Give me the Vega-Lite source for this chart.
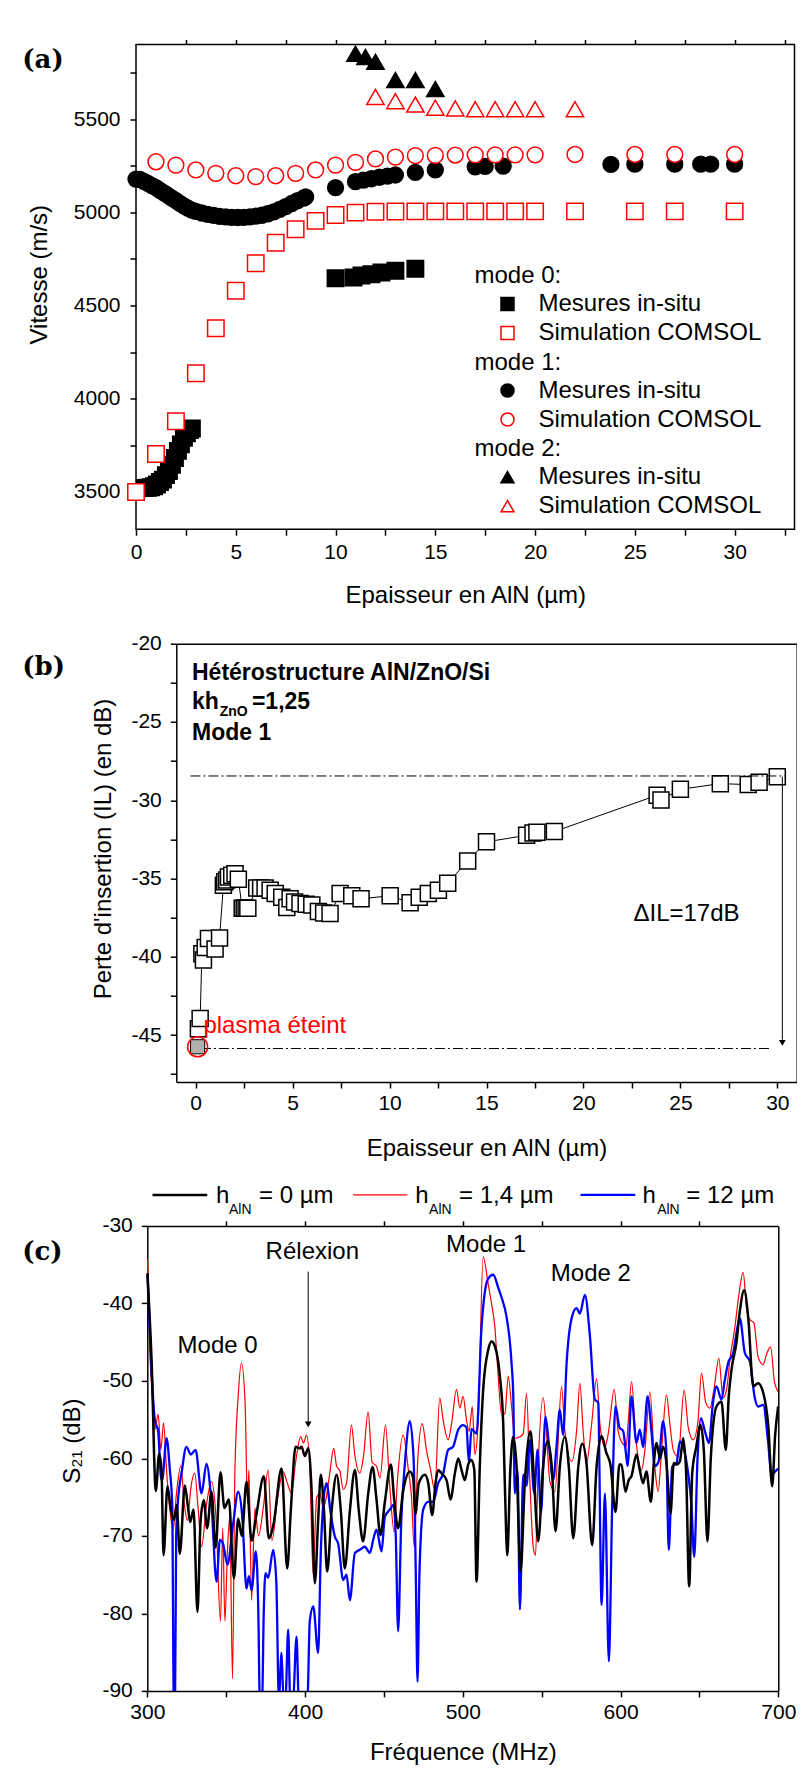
{
"$schema": "https://vega.github.io/schema/vega-lite/v6.json",
"padding": {"left": 21, "top": 37.5, "right": 0, "bottom": 0},
"background": "white",
"config": {
  "font": "Liberation Sans",
  "view": {"stroke": "black", "strokeWidth": 1.5},
  "axis": {"domain": false, "domainColor": "black", "domainWidth": 1.5, "grid": false, "tickColor": "black", "tickWidth": 1.5, "tickSize": 6, "labelFont": "Liberation Sans", "labelFontSize": 21, "labelColor": "black", "labelFlush": false, "labelOverlap": false, "titleFont": "Liberation Sans", "titleFontSize": 24, "titleFontWeight": "normal", "titleColor": "black"},
  "legend": {"labelFont": "Liberation Sans", "labelFontSize": 24, "labelColor": "black", "labelLimit": 400, "titleFont": "Liberation Sans", "titleFontSize": 24, "titleFontWeight": "normal", "titleColor": "black", "titleLimit": 400, "padding": 0, "rowPadding": 5, "titlePadding": 4, "symbolSize": 170, "symbolStrokeWidth": 1.5, "symbolOffset": 21, "labelOffset": 19},
  "text": {"font": "Liberation Sans", "fontSize": 24, "baseline": "alphabetic", "align": "left", "color": "black"}
},
"datasets": {
  "a": [
    {"m":0,"t":"mes","x":0.45,"v":3521},{"m":0,"t":"mes","x":0.6,"v":3522},{"m":0,"t":"mes","x":0.75,"v":3525},{"m":0,"t":"mes","x":0.9,"v":3530},{"m":0,"t":"mes","x":1.05,"v":3540},{"m":0,"t":"mes","x":1.2,"v":3553},{"m":0,"t":"mes","x":1.35,"v":3566},{"m":0,"t":"mes","x":1.5,"v":3590},{"m":0,"t":"mes","x":1.65,"v":3612},{"m":0,"t":"mes","x":1.8,"v":3645},{"m":0,"t":"mes","x":1.95,"v":3682},{"m":0,"t":"mes","x":2.1,"v":3720},{"m":0,"t":"mes","x":2.25,"v":3755},{"m":0,"t":"mes","x":2.4,"v":3790},{"m":0,"t":"mes","x":2.55,"v":3815},{"m":0,"t":"mes","x":2.7,"v":3832},{"m":0,"t":"mes","x":2.8,"v":3840},
    {"m":0,"t":"mes","x":10,"v":4646},{"m":0,"t":"mes","x":10.9,"v":4650},{"m":0,"t":"mes","x":11.3,"v":4661},{"m":0,"t":"mes","x":11.8,"v":4668},{"m":0,"t":"mes","x":12.3,"v":4677},{"m":0,"t":"mes","x":13,"v":4686},{"m":0,"t":"mes","x":14,"v":4697},
    {"m":0,"t":"sim","x":0,"v":3500},{"m":0,"t":"sim","x":1,"v":3703},{"m":0,"t":"sim","x":2,"v":3879},{"m":0,"t":"sim","x":3,"v":4137},{"m":0,"t":"sim","x":4,"v":4378},{"m":0,"t":"sim","x":5,"v":4579},{"m":0,"t":"sim","x":6,"v":4727},{"m":0,"t":"sim","x":7,"v":4837},{"m":0,"t":"sim","x":8,"v":4909},{"m":0,"t":"sim","x":9,"v":4954},{"m":0,"t":"sim","x":10,"v":4985},{"m":0,"t":"sim","x":11,"v":4998},{"m":0,"t":"sim","x":12,"v":5003},{"m":0,"t":"sim","x":13,"v":5004},{"m":0,"t":"sim","x":14,"v":5005},{"m":0,"t":"sim","x":15,"v":5005},{"m":0,"t":"sim","x":16,"v":5005},{"m":0,"t":"sim","x":17,"v":5005},{"m":0,"t":"sim","x":18,"v":5005},{"m":0,"t":"sim","x":19,"v":5005},{"m":0,"t":"sim","x":20,"v":5005},{"m":0,"t":"sim","x":22,"v":5005},{"m":0,"t":"sim","x":25,"v":5005},{"m":0,"t":"sim","x":27,"v":5005},{"m":0,"t":"sim","x":30,"v":5005},
    {"m":1,"t":"mes","x":0,"v":5178},{"m":1,"t":"mes","x":0.2,"v":5176},{"m":1,"t":"mes","x":0.4,"v":5166},{"m":1,"t":"mes","x":0.6,"v":5155},{"m":1,"t":"mes","x":0.8,"v":5143},{"m":1,"t":"mes","x":1.0,"v":5132},{"m":1,"t":"mes","x":1.2,"v":5118},{"m":1,"t":"mes","x":1.4,"v":5104},{"m":1,"t":"mes","x":1.6,"v":5090},{"m":1,"t":"mes","x":1.8,"v":5076},{"m":1,"t":"mes","x":2.0,"v":5062},{"m":1,"t":"mes","x":2.2,"v":5048},{"m":1,"t":"mes","x":2.4,"v":5034},{"m":1,"t":"mes","x":2.6,"v":5022},{"m":1,"t":"mes","x":2.8,"v":5012},{"m":1,"t":"mes","x":3.0,"v":5005},{"m":1,"t":"mes","x":3.3,"v":4996},{"m":1,"t":"mes","x":3.6,"v":4989},{"m":1,"t":"mes","x":3.9,"v":4983},{"m":1,"t":"mes","x":4.2,"v":4978},{"m":1,"t":"mes","x":4.5,"v":4975},{"m":1,"t":"mes","x":4.8,"v":4973},{"m":1,"t":"mes","x":5.1,"v":4972},{"m":1,"t":"mes","x":5.4,"v":4973},{"m":1,"t":"mes","x":5.7,"v":4975},{"m":1,"t":"mes","x":6.0,"v":4979},{"m":1,"t":"mes","x":6.3,"v":4984},{"m":1,"t":"mes","x":6.6,"v":4992},{"m":1,"t":"mes","x":6.9,"v":5002},{"m":1,"t":"mes","x":7.2,"v":5016},{"m":1,"t":"mes","x":7.5,"v":5030},{"m":1,"t":"mes","x":7.8,"v":5047},{"m":1,"t":"mes","x":8.1,"v":5062},{"m":1,"t":"mes","x":8.4,"v":5076},{"m":1,"t":"mes","x":8.5,"v":5082},
    {"m":1,"t":"mes","x":10,"v":5132},{"m":1,"t":"mes","x":11,"v":5164},{"m":1,"t":"mes","x":11.4,"v":5172},{"m":1,"t":"mes","x":11.8,"v":5180},{"m":1,"t":"mes","x":12.2,"v":5188},{"m":1,"t":"mes","x":12.6,"v":5194},{"m":1,"t":"mes","x":13,"v":5200},{"m":1,"t":"mes","x":14,"v":5214},{"m":1,"t":"mes","x":15,"v":5227},{"m":1,"t":"mes","x":17,"v":5244},{"m":1,"t":"mes","x":17.5,"v":5246},{"m":1,"t":"mes","x":18.4,"v":5248},{"m":1,"t":"mes","x":23.8,"v":5257},{"m":1,"t":"mes","x":25,"v":5258},{"m":1,"t":"mes","x":27,"v":5258},{"m":1,"t":"mes","x":28.3,"v":5258},{"m":1,"t":"mes","x":28.8,"v":5258},{"m":1,"t":"mes","x":30,"v":5258},
    {"m":1,"t":"sim","x":1,"v":5271},{"m":1,"t":"sim","x":2,"v":5253},{"m":1,"t":"sim","x":3,"v":5227},{"m":1,"t":"sim","x":4,"v":5209},{"m":1,"t":"sim","x":5,"v":5196},{"m":1,"t":"sim","x":6,"v":5191},{"m":1,"t":"sim","x":7,"v":5196},{"m":1,"t":"sim","x":8,"v":5209},{"m":1,"t":"sim","x":9,"v":5227},{"m":1,"t":"sim","x":10,"v":5253},{"m":1,"t":"sim","x":11,"v":5268},{"m":1,"t":"sim","x":12,"v":5286},{"m":1,"t":"sim","x":13,"v":5296},{"m":1,"t":"sim","x":14,"v":5304},{"m":1,"t":"sim","x":15,"v":5305},{"m":1,"t":"sim","x":16,"v":5307},{"m":1,"t":"sim","x":17,"v":5308},{"m":1,"t":"sim","x":18,"v":5308},{"m":1,"t":"sim","x":19,"v":5308},{"m":1,"t":"sim","x":20,"v":5308},{"m":1,"t":"sim","x":22,"v":5310},{"m":1,"t":"sim","x":25,"v":5310},{"m":1,"t":"sim","x":27,"v":5310},{"m":1,"t":"sim","x":30,"v":5310},
    {"m":2,"t":"mes","x":11,"v":5851},{"m":2,"t":"mes","x":11.5,"v":5833},{"m":2,"t":"mes","x":12,"v":5807},{"m":2,"t":"mes","x":13,"v":5709},{"m":2,"t":"mes","x":14,"v":5709},{"m":2,"t":"mes","x":15,"v":5661},
    {"m":2,"t":"sim","x":12,"v":5619},{"m":2,"t":"sim","x":13,"v":5596},{"m":2,"t":"sim","x":14,"v":5578},{"m":2,"t":"sim","x":15,"v":5561},{"m":2,"t":"sim","x":16,"v":5557},{"m":2,"t":"sim","x":17,"v":5553},{"m":2,"t":"sim","x":18,"v":5553},{"m":2,"t":"sim","x":19,"v":5553},{"m":2,"t":"sim","x":20,"v":5553},{"m":2,"t":"sim","x":22,"v":5553}
  ],
  "b": [
    {"x":0.14,"v":-44.6},{"x":0.23,"v":-43.95},{"x":0.32,"v":-39.8},{"x":0.4,"v":-40.2},{"x":0.49,"v":-39.4},{"x":0.66,"v":-38.84},{"x":1.0,"v":-39.5},{"x":1.23,"v":-38.8},{"x":1.43,"v":-35.43},{"x":1.5,"v":-35.2},{"x":1.6,"v":-35.1},{"x":1.69,"v":-34.9},{"x":1.86,"v":-34.8},{"x":2.03,"v":-34.7},{"x":2.2,"v":-35.05},{"x":2.4,"v":-36.9},{"x":2.5,"v":-36.9},{"x":2.6,"v":-36.9},{"x":2.69,"v":-36.9},{"x":3.15,"v":-35.6},{"x":3.35,"v":-35.6},{"x":3.58,"v":-35.6},{"x":3.84,"v":-35.75},{"x":4.1,"v":-35.96},{"x":4.44,"v":-36.2},{"x":4.7,"v":-36.86},{"x":4.87,"v":-36.3},{"x":5.1,"v":-36.5},{"x":5.38,"v":-36.6},{"x":5.7,"v":-36.65},{"x":5.99,"v":-36.7},{"x":6.33,"v":-37.1},{"x":6.6,"v":-37.2},{"x":6.93,"v":-37.24},{"x":7.45,"v":-35.96},{"x":8.05,"v":-36.1},{"x":8.53,"v":-36.3},{"x":10.03,"v":-36.1},{"x":11.06,"v":-36.55},{"x":11.53,"v":-36.2},{"x":12.0,"v":-35.96},{"x":12.52,"v":-35.75},{"x":13.0,"v":-35.3},{"x":14.03,"v":-33.88},{"x":15.0,"v":-32.66},{"x":17.07,"v":-32.24},{"x":17.4,"v":-32.1},{"x":17.6,"v":-32.05},{"x":18.5,"v":-32.0},{"x":23.8,"v":-29.68},{"x":24.0,"v":-29.98},{"x":25.0,"v":-29.3},{"x":27.06,"v":-28.94},{"x":28.5,"v":-29.0},{"x":29.06,"v":-28.85},{"x":30.0,"v":-28.5}
  ],
  "cb": [
    {"f":300.1,"s":-36.1},{"f":302.7,"s":-47.3},{"f":305.4,"s":-64.2},{"f":307.5,"s":-59.4},{"f":309.0,"s":-61.5},{"f":310.3,"s":-72.5},{"f":312.8,"s":-63.6},{"f":314.9,"s":-66.6},{"f":317.0,"s":-67.9},{"f":318.6,"s":-66.0},{"f":320.6,"s":-72.3},{"f":323.8,"s":-63.5},{"f":325.6,"s":-66.0},{"f":327.2,"s":-68.2},{"f":329.3,"s":-66.6},{"f":331.8,"s":-79.8},{"f":333.8,"s":-68.0},{"f":335.8,"s":-65.4},{"f":337.9,"s":-69.0},{"f":340.7,"s":-64.3},{"f":343.3,"s":-71.5},{"f":346.4,"s":-61.8},{"f":348.9,"s":-66.4},{"f":351.7,"s":-65.3},{"f":354.9,"s":-75.5},{"f":357.6,"s":-67.8},{"f":359.9,"s":-70.0},{"f":362.9,"s":-63.0},{"f":366.1,"s":-70.6},{"f":369.2,"s":-67.2},{"f":373.9,"s":-62.3},{"f":377.0,"s":-70.3},{"f":380.0,"s":-68.5},{"f":385.1,"s":-61.3},{"f":388.7,"s":-74.2},{"f":391.0,"s":-66.6},{"f":394.0,"s":-58.5},{"f":396.7,"s":-58.7},{"f":397.8,"s":-58.5},{"f":399.9,"s":-59.7},{"f":402.0,"s":-58.7},{"f":404.0,"s":-63.5},{"f":406.2,"s":-76.1},{"f":408.3,"s":-68.0},{"f":410.0,"s":-62.1},{"f":412.0,"s":-66.8},{"f":414.0,"s":-74.6},{"f":417.0,"s":-66.4},{"f":420.0,"s":-62.1},{"f":422.7,"s":-66.8},{"f":425.2,"s":-74.2},{"f":428.4,"s":-66.8},{"f":431.6,"s":-61.5},{"f":434.1,"s":-66.8},{"f":436.8,"s":-70.7},{"f":440.0,"s":-64.6},{"f":442.8,"s":-61.1},{"f":445.3,"s":-65.3},{"f":447.8,"s":-69.9},{"f":450.6,"s":-65.6},{"f":454.4,"s":-60.8},{"f":456.5,"s":-65.3},{"f":459.0,"s":-69.0},{"f":462.2,"s":-64.2},{"f":466.4,"s":-61.7},{"f":468.5,"s":-62.5},{"f":470.0,"s":-67.1},{"f":472.1,"s":-63.2},{"f":476.0,"s":-62.1},{"f":478.1,"s":-63.2},{"f":480.6,"s":-67.3},{"f":482.7,"s":-63.2},{"f":484.4,"s":-61.5},{"f":486.5,"s":-61.9},{"f":489.7,"s":-62.8},{"f":492.2,"s":-65.3},{"f":495.0,"s":-61.9},{"f":497.1,"s":-60.0},{"f":499.2,"s":-61.5},{"f":501.3,"s":-62.8},{"f":503.4,"s":-60.8},{"f":505.5,"s":-60.2},{"f":507.3,"s":-61.5},{"f":508.7,"s":-75.9},{"f":510.8,"s":-60.8},{"f":512.9,"s":-51.2},{"f":516.1,"s":-46.0},{"f":518.2,"s":-44.9},{"f":520.3,"s":-45.5},{"f":523.5,"s":-49.4},{"f":525.6,"s":-55.4},{"f":526.8,"s":-64.5},{"f":528.2,"s":-72.5},{"f":530.1,"s":-61.5},{"f":532.0,"s":-57.2},{"f":534.1,"s":-61.1},{"f":536.6,"s":-74.6},{"f":539.3,"s":-63.2},{"f":542.9,"s":-56.5},{"f":545.3,"s":-63.2},{"f":547.8,"s":-70.7},{"f":550.9,"s":-61.1},{"f":553.7,"s":-57.8},{"f":556.4,"s":-61.1},{"f":558.8,"s":-69.4},{"f":561.5,"s":-61.1},{"f":564.7,"s":-57.2},{"f":567.2,"s":-61.1},{"f":570.0,"s":-70.3},{"f":573.2,"s":-61.1},{"f":575.7,"s":-58.1},{"f":578.4,"s":-60.6},{"f":582.0,"s":-71.2},{"f":584.8,"s":-61.1},{"f":588.0,"s":-57.1},{"f":591.0,"s":-59.3},{"f":593.6,"s":-60.8},{"f":596.8,"s":-66.9},{"f":599.3,"s":-60.8},{"f":600.6,"s":-60.8},{"f":603.1,"s":-64.3},{"f":605.2,"s":-62.8},{"f":606.9,"s":-62.3},{"f":610.1,"s":-59.5},{"f":612.2,"s":-61.5},{"f":614.3,"s":-63.2},{"f":616.4,"s":-61.7},{"f":619.2,"s":-65.6},{"f":621.1,"s":-60.6},{"f":622.8,"s":-58.0},{"f":625.0,"s":-60.0},{"f":627.0,"s":-58.5},{"f":629.1,"s":-60.6},{"f":631.7,"s":-67.1},{"f":633.7,"s":-60.6},{"f":635.5,"s":-60.8},{"f":637.6,"s":-60.4},{"f":639.7,"s":-57.4},{"f":641.6,"s":-62.0},{"f":643.5,"s":-76.5},{"f":645.4,"s":-62.0},{"f":648.0,"s":-58.5},{"f":650.7,"s":-55.7},{"f":652.8,"s":-59.0},{"f":655.1,"s":-70.7},{"f":657.2,"s":-60.0},{"f":660.8,"s":-53.3},{"f":664.0,"s":-52.7},{"f":666.7,"s":-58.9},{"f":668.6,"s":-52.0},{"f":670.3,"s":-48.6},{"f":673.5,"s":-45.0},{"f":675.6,"s":-41.0},{"f":678.4,"s":-38.3},{"f":681.0,"s":-42.0},{"f":684.1,"s":-50.7},{"f":687.2,"s":-50.3},{"f":690.4,"s":-51.5},{"f":693.6,"s":-55.7},{"f":696.1,"s":-63.6},{"f":698.0,"s":-57.0},{"f":699.9,"s":-53.3}
  ],
  "cr": [
    {"f":300.1,"s":-34.2},{"f":301.6,"s":-46.0},{"f":303.3,"s":-52.7},{"f":304.8,"s":-56.3},{"f":306.9,"s":-54.3},{"f":308.6,"s":-58.9},{"f":310.3,"s":-55.4},{"f":312.2,"s":-61.5},{"f":314.3,"s":-66.6},{"f":316.4,"s":-69.2},{"f":318.5,"s":-64.5},{"f":321.3,"s":-61.0},{"f":323.4,"s":-65.8},{"f":325.5,"s":-68.0},{"f":327.6,"s":-63.8},{"f":330.1,"s":-61.9},{"f":332.2,"s":-66.4},{"f":334.4,"s":-71.4},{"f":337.5,"s":-66.0},{"f":340.7,"s":-63.0},{"f":343.5,"s":-67.5},{"f":346.4,"s":-81.0},{"f":347.8,"s":-69.0},{"f":349.2,"s":-81.0},{"f":350.8,"s":-72.0},{"f":352.3,"s":-67.5},{"f":354.0,"s":-88.4},{"f":355.5,"s":-62.0},{"f":357.6,"s":-52.0},{"f":359.7,"s":-47.7},{"f":362.0,"s":-52.8},{"f":363.5,"s":-65.8},{"f":364.4,"s":-61.5},{"f":366.1,"s":-78.3},{"f":368.2,"s":-66.4},{"f":370.5,"s":-70.0},{"f":373.5,"s":-66.4},{"f":376.6,"s":-61.5},{"f":379.0,"s":-70.6},{"f":382.5,"s":-65.3},{"f":386.1,"s":-61.7},{"f":388.5,"s":-63.0},{"f":391.4,"s":-64.5},{"f":394.0,"s":-60.5},{"f":397.3,"s":-57.2},{"f":399.0,"s":-58.0},{"f":400.9,"s":-57.0},{"f":403.0,"s":-61.0},{"f":405.1,"s":-75.0},{"f":407.3,"s":-65.1},{"f":409.5,"s":-64.5},{"f":411.5,"s":-66.4},{"f":413.5,"s":-65.0},{"f":415.6,"s":-62.0},{"f":418.2,"s":-58.7},{"f":420.0,"s":-61.0},{"f":422.0,"s":-61.6},{"f":424.2,"s":-64.0},{"f":426.3,"s":-63.2},{"f":429.4,"s":-55.7},{"f":431.5,"s":-59.5},{"f":434.7,"s":-61.9},{"f":437.0,"s":-59.8},{"f":440.0,"s":-54.0},{"f":442.5,"s":-60.5},{"f":445.3,"s":-61.0},{"f":447.5,"s":-62.5},{"f":451.0,"s":-55.7},{"f":453.5,"s":-63.0},{"f":456.5,"s":-69.5},{"f":458.5,"s":-63.0},{"f":462.2,"s":-57.0},{"f":465.5,"s":-61.5},{"f":467.5,"s":-65.0},{"f":469.2,"s":-71.4},{"f":471.5,"s":-60.0},{"f":474.3,"s":-55.5},{"f":477.0,"s":-59.0},{"f":479.3,"s":-61.2},{"f":482.2,"s":-64.0},{"f":485.4,"s":-52.2},{"f":487.5,"s":-55.0},{"f":490.7,"s":-57.6},{"f":492.9,"s":-55.5},{"f":496.0,"s":-51.1},{"f":498.1,"s":-53.5},{"f":500.2,"s":-52.0},{"f":502.3,"s":-55.0},{"f":504.0,"s":-56.5},{"f":506.0,"s":-53.3},{"f":507.7,"s":-59.5},{"f":509.8,"s":-55.0},{"f":512.9,"s":-34.0},{"f":516.1,"s":-37.5},{"f":518.2,"s":-40.0},{"f":520.3,"s":-43.0},{"f":522.0,"s":-48.0},{"f":524.6,"s":-54.4},{"f":526.7,"s":-54.2},{"f":528.8,"s":-49.4},{"f":531.0,"s":-53.5},{"f":533.0,"s":-57.4},{"f":536.2,"s":-57.2},{"f":538.3,"s":-56.8},{"f":540.4,"s":-51.6},{"f":542.5,"s":-62.8},{"f":544.6,"s":-71.4},{"f":546.1,"s":-72.5},{"f":547.7,"s":-61.5},{"f":551.0,"s":-52.2},{"f":553.0,"s":-56.6},{"f":555.2,"s":-63.0},{"f":558.4,"s":-64.3},{"f":562.6,"s":-50.7},{"f":564.7,"s":-56.5},{"f":569.0,"s":-60.4},{"f":572.1,"s":-56.5},{"f":574.2,"s":-50.3},{"f":576.3,"s":-56.5},{"f":578.4,"s":-60.6},{"f":581.7,"s":-55.5},{"f":584.8,"s":-49.7},{"f":587.0,"s":-55.7},{"f":590.1,"s":-58.5},{"f":592.2,"s":-56.8},{"f":596.0,"s":-51.1},{"f":598.5,"s":-56.5},{"f":601.7,"s":-58.2},{"f":603.5,"s":-58.5},{"f":604.8,"s":-55.5},{"f":607.0,"s":-50.1},{"f":609.5,"s":-57.0},{"f":613.3,"s":-61.5},{"f":615.4,"s":-59.0},{"f":618.6,"s":-51.4},{"f":621.7,"s":-61.0},{"f":623.8,"s":-64.3},{"f":626.0,"s":-59.0},{"f":629.1,"s":-51.8},{"f":631.2,"s":-55.4},{"f":633.4,"s":-58.9},{"f":636.5,"s":-59.8},{"f":640.3,"s":-51.2},{"f":642.9,"s":-56.0},{"f":646.0,"s":-57.6},{"f":649.0,"s":-55.4},{"f":651.3,"s":-49.0},{"f":654.0,"s":-52.8},{"f":656.6,"s":-53.5},{"f":659.3,"s":-51.0},{"f":662.3,"s":-47.1},{"f":665.0,"s":-52.2},{"f":667.3,"s":-51.0},{"f":669.5,"s":-47.0},{"f":672.4,"s":-43.2},{"f":675.0,"s":-38.9},{"f":677.7,"s":-36.0},{"f":680.0,"s":-40.8},{"f":682.0,"s":-42.1},{"f":684.5,"s":-42.5},{"f":687.2,"s":-46.9},{"f":690.4,"s":-47.9},{"f":692.5,"s":-46.6},{"f":695.1,"s":-45.6},{"f":697.5,"s":-50.0},{"f":699.9,"s":-51.4}
  ],
  "cu": [
    {"f":300.1,"s":-36.3},{"f":302.5,"s":-48.0},{"f":304.8,"s":-55.1},{"f":306.9,"s":-56.5},{"f":308.6,"s":-62.3},{"f":309.4,"s":-62.8},{"f":312.2,"s":-57.4},{"f":314.3,"s":-61.5},{"f":315.8,"s":-66.0},{"f":316.8,"s":-91.0},{"f":317.6,"s":-91.0},{"f":318.3,"s":-70.0},{"f":319.2,"s":-66.2},{"f":322.0,"s":-61.5},{"f":324.8,"s":-58.5},{"f":327.6,"s":-59.5},{"f":330.6,"s":-58.9},{"f":334.4,"s":-64.5},{"f":337.5,"s":-60.7},{"f":340.6,"s":-65.5},{"f":343.9,"s":-75.9},{"f":346.0,"s":-70.5},{"f":348.0,"s":-71.0},{"f":350.8,"s":-73.7},{"f":354.4,"s":-68.5},{"f":357.6,"s":-64.3},{"f":360.2,"s":-67.5},{"f":362.9,"s":-76.8},{"f":364.4,"s":-75.2},{"f":366.1,"s":-77.0},{"f":368.8,"s":-72.0},{"f":370.4,"s":-80.0},{"f":371.3,"s":-91.0},{"f":372.8,"s":-91.0},{"f":373.8,"s":-80.0},{"f":374.9,"s":-74.8},{"f":376.6,"s":-75.4},{"f":379.8,"s":-71.8},{"f":381.8,"s":-76.0},{"f":383.4,"s":-91.0},{"f":385.1,"s":-85.1},{"f":386.3,"s":-91.0},{"f":387.6,"s":-91.0},{"f":389.3,"s":-82.1},{"f":390.6,"s":-91.0},{"f":392.4,"s":-91.0},{"f":394.6,"s":-83.0},{"f":396.0,"s":-91.0},{"f":401.5,"s":-91.0},{"f":403.0,"s":-81.0},{"f":405.2,"s":-79.1},{"f":408.3,"s":-85.1},{"f":410.0,"s":-72.0},{"f":411.5,"s":-66.0},{"f":413.6,"s":-63.2},{"f":416.2,"s":-67.0},{"f":418.9,"s":-70.1},{"f":421.0,"s":-71.0},{"f":424.2,"s":-75.7},{"f":426.3,"s":-75.0},{"f":428.4,"s":-78.3},{"f":431.6,"s":-72.2},{"f":434.7,"s":-71.8},{"f":437.9,"s":-71.4},{"f":441.1,"s":-72.2},{"f":443.2,"s":-70.5},{"f":445.3,"s":-69.2},{"f":448.5,"s":-72.0},{"f":450.6,"s":-67.5},{"f":453.8,"s":-66.6},{"f":456.0,"s":-66.0},{"f":457.5,"s":-70.0},{"f":459.0,"s":-82.3},{"f":461.0,"s":-68.0},{"f":463.3,"s":-60.6},{"f":466.4,"s":-55.2},{"f":468.8,"s":-60.0},{"f":470.2,"s":-75.0},{"f":471.3,"s":-88.8},{"f":472.5,"s":-75.0},{"f":474.9,"s":-66.6},{"f":478.0,"s":-65.6},{"f":481.2,"s":-65.6},{"f":484.4,"s":-63.2},{"f":487.5,"s":-62.0},{"f":490.7,"s":-58.9},{"f":493.8,"s":-58.5},{"f":497.1,"s":-56.3},{"f":500.2,"s":-55.7},{"f":502.3,"s":-56.0},{"f":503.9,"s":-60.5},{"f":505.5,"s":-56.2},{"f":508.7,"s":-56.8},{"f":511.9,"s":-43.0},{"f":514.0,"s":-38.5},{"f":516.1,"s":-36.8},{"f":519.3,"s":-36.3},{"f":522.5,"s":-38.0},{"f":525.0,"s":-39.5},{"f":527.7,"s":-41.7},{"f":530.9,"s":-47.7},{"f":532.0,"s":-52.0},{"f":533.0,"s":-64.5},{"f":534.7,"s":-61.5},{"f":536.2,"s":-79.5},{"f":538.3,"s":-62.1},{"f":540.4,"s":-63.5},{"f":542.5,"s":-57.6},{"f":545.3,"s":-64.5},{"f":547.4,"s":-58.9},{"f":549.5,"s":-67.1},{"f":552.4,"s":-54.6},{"f":554.5,"s":-58.0},{"f":557.3,"s":-62.8},{"f":559.4,"s":-58.5},{"f":561.5,"s":-53.7},{"f":563.6,"s":-57.0},{"f":565.8,"s":-47.7},{"f":569.0,"s":-41.9},{"f":572.1,"s":-40.6},{"f":574.2,"s":-41.3},{"f":577.4,"s":-38.9},{"f":580.5,"s":-44.0},{"f":583.7,"s":-52.4},{"f":585.8,"s":-52.8},{"f":588.0,"s":-78.9},{"f":590.1,"s":-64.5},{"f":592.6,"s":-86.2},{"f":594.7,"s":-66.0},{"f":596.8,"s":-53.3},{"f":599.3,"s":-56.0},{"f":601.7,"s":-56.5},{"f":603.5,"s":-59.5},{"f":604.5,"s":-61.0},{"f":606.9,"s":-52.0},{"f":610.1,"s":-58.0},{"f":612.2,"s":-56.3},{"f":614.3,"s":-58.5},{"f":617.1,"s":-52.0},{"f":619.6,"s":-56.5},{"f":621.7,"s":-61.0},{"f":624.0,"s":-60.5},{"f":627.0,"s":-55.2},{"f":629.0,"s":-59.0},{"f":630.6,"s":-71.8},{"f":632.7,"s":-61.1},{"f":635.5,"s":-60.6},{"f":637.6,"s":-57.8},{"f":639.7,"s":-58.5},{"f":642.9,"s":-62.0},{"f":644.9,"s":-66.0},{"f":646.7,"s":-72.7},{"f":648.8,"s":-60.0},{"f":650.9,"s":-54.8},{"f":653.5,"s":-56.5},{"f":656.0,"s":-58.0},{"f":658.5,"s":-53.0},{"f":660.8,"s":-50.7},{"f":664.0,"s":-52.4},{"f":666.0,"s":-50.0},{"f":668.2,"s":-47.7},{"f":671.4,"s":-46.4},{"f":673.5,"s":-43.8},{"f":675.6,"s":-41.9},{"f":678.8,"s":-46.4},{"f":682.0,"s":-47.5},{"f":685.1,"s":-52.2},{"f":687.2,"s":-53.3},{"f":690.4,"s":-53.1},{"f":693.6,"s":-58.0},{"f":695.7,"s":-62.1},{"f":698.9,"s":-61.5},{"f":699.9,"s":-61.3}
  ]
},
"columns": 1,
"align": "none",
"spacing": 24.2,
"concat": [
{
  "width": 658.5, "height": 484.7,
  "layer": [
    {
      "layer": [
        {"data": {"name": "a"}, "transform": [{"filter": "datum.m == 0"}], "mark": {"type": "point", "shape": "square", "filled": true, "size": 270, "strokeWidth": 1.5, "opacity": 1},
         "encoding": {
           "x": {"field": "x", "type": "quantitative", "title": "Epaisseur en AlN (µm)", "scale": {"domain": [0, 33], "nice": false, "zero": false}, "axis": {"values": [0,2.5,5,7.5,10,12.5,15,17.5,20,22.5,25,27.5,30,32.5], "labelExpr": "datum.value % 5 === 0 ? datum.label : ''", "labelOverlap": false, "labelPadding": 6.5, "titlePadding": 20.5}},
           "y": {"field": "v", "type": "quantitative", "title": "Vitesse (m/s)", "scale": {"domain": [3300, 5900], "nice": false, "zero": false}, "axis": {"values": [3500,3750,4000,4250,4500,4750,5000,5250,5500,5750], "format": "d", "labelExpr": "datum.value % 500 === 0 ? datum.label : ''", "labelOverlap": false, "labelPadding": 10, "titlePadding": 22, "titleY": 229.7}},
           "fill": {"field": "t", "type": "nominal", "scale": {"domain": ["mes", "sim"], "range": ["black", "white"]}, "legend": {"title": "mode 0:", "orient": "none", "legendX": 338.5, "legendY": 219.4, "labelExpr": "datum.value == 'mes' ? 'Mesures in-situ' : 'Simulation COMSOL'"}},
           "stroke": {"field": "t", "type": "nominal", "scale": {"domain": ["mes", "sim"], "range": ["black", "#ff0000"]}, "legend": {"title": "mode 0:", "orient": "none", "legendX": 338.5, "legendY": 219.4, "labelExpr": "datum.value == 'mes' ? 'Mesures in-situ' : 'Simulation COMSOL'"}}
         }},
        {"data": {"name": "a"}, "transform": [{"filter": "datum.m == 1"}], "mark": {"type": "point", "shape": "circle", "filled": true, "size": 250, "strokeWidth": 1.5, "opacity": 1},
         "encoding": {
           "x": {"field": "x", "type": "quantitative", "title": "Epaisseur en AlN (µm)"},
           "y": {"field": "v", "type": "quantitative", "title": "Vitesse (m/s)"},
           "fill": {"field": "t", "type": "nominal", "scale": {"domain": ["mes", "sim"], "range": ["black", "white"]}, "legend": {"title": "mode 1:", "orient": "none", "legendX": 338.5, "legendY": 306, "labelExpr": "datum.value == 'mes' ? 'Mesures in-situ' : 'Simulation COMSOL'"}},
           "stroke": {"field": "t", "type": "nominal", "scale": {"domain": ["mes", "sim"], "range": ["black", "#ff0000"]}, "legend": {"title": "mode 1:", "orient": "none", "legendX": 338.5, "legendY": 306, "labelExpr": "datum.value == 'mes' ? 'Mesures in-situ' : 'Simulation COMSOL'"}}
         }},
        {"data": {"name": "a"}, "transform": [{"filter": "datum.m == 2"}], "mark": {"type": "point", "shape": "triangle-up", "filled": true, "size": 300, "strokeWidth": 1.5, "opacity": 1},
         "encoding": {
           "x": {"field": "x", "type": "quantitative", "title": "Epaisseur en AlN (µm)"},
           "y": {"field": "v", "type": "quantitative", "title": "Vitesse (m/s)"},
           "fill": {"field": "t", "type": "nominal", "scale": {"domain": ["mes", "sim"], "range": ["black", "white"]}, "legend": {"title": "mode 2:", "orient": "none", "legendX": 338.5, "legendY": 392.7, "labelExpr": "datum.value == 'mes' ? 'Mesures in-situ' : 'Simulation COMSOL'"}},
           "stroke": {"field": "t", "type": "nominal", "scale": {"domain": ["mes", "sim"], "range": ["black", "#ff0000"]}, "legend": {"title": "mode 2:", "orient": "none", "legendX": 338.5, "legendY": 392.7, "labelExpr": "datum.value == 'mes' ? 'Mesures in-situ' : 'Simulation COMSOL'"}}
         }}
      ],
      "resolve": {"scale": {"fill": "independent", "stroke": "independent"}}
    },
    {
      "layer": [
        {"data": {"values": [{}]}, "mark": {"type": "text", "font": "DejaVu Serif", "fontWeight": "bold", "fontSize": 26},
         "encoding": {
           "x": {"datum": -5.7, "type": "quantitative", "axis": {"orient": "top", "labels": false, "title": null, "tickSize": 5, "values": [2.5,5,7.5,10,12.5,15,17.5,20,22.5,25,27.5,30,32.5]}},
           "y": {"datum": 5775, "type": "quantitative", "axis": null},
           "text": {"value": "(a)"}}}
      ]
    }
  ],
  "resolve": {"axis": {"x": "independent", "y": "independent"}}
},
{
  "columns": 1,
  "align": "none",
  "spacing": 23.2,
  "concat": [
  {
    "width": 660.7, "height": 438.3,
    "view": {"stroke": null},
    "layer": [
      {
        "layer": [
          {"data": {"name": "b"}, "mark": {"type": "line", "color": "black", "strokeWidth": 1},
           "encoding": {
             "x": {"field": "x", "type": "quantitative", "title": "Epaisseur en AlN (µm)", "scale": {"domain": [-1, 31], "range": [40.3, 660.7], "nice": false, "zero": false}, "axis": {"values": [0,2.5,5,7.5,10,12.5,15,17.5,20,22.5,25,27.5,30], "labelExpr": "datum.value % 5 === 0 ? datum.label : ''", "labelOverlap": false, "labelPadding": 4, "titlePadding": 23, "domain": true}},
             "y": {"field": "v", "type": "quantitative", "title": "Perte d'insertion (IL) (en dB)", "scale": {"domain": [-48, -20], "nice": false, "zero": false}, "axis": {"values": [-45,-40,-35,-30,-25,-20], "format": "d", "labelExpr": "replace(datum.label, '\u2212', '-')", "labelOverlap": false, "labelPadding": 9, "titlePadding": 15, "titleY": 204.8, "offset": -40.3, "domain": true}}
           }},
          {"data": {"name": "b"}, "mark": {"type": "point", "shape": "square", "filled": true, "fill": "white", "stroke": "black", "strokeWidth": 1.5, "size": 256, "opacity": 1},
           "encoding": {
             "x": {"field": "x", "type": "quantitative", "title": "Epaisseur en AlN (µm)"},
             "y": {"field": "v", "type": "quantitative", "title": "Perte d'insertion (IL) (en dB)"}
           }}
        ]
      },
      {
        "layer": [
          {"data": {"values": [{}]}, "mark": {"type": "rule", "color": "black", "strokeWidth": 1, "strokeDash": [10, 3, 2, 3]},
           "encoding": {"x": {"datum": -0.27, "axis": null}, "x2": {"datum": 30.4}, "y": {"datum": -28.45, "axis": null}}},
          {"data": {"values": [{}]}, "mark": {"type": "rule", "color": "black", "strokeWidth": 1, "strokeDash": [10, 3, 2, 3]},
           "encoding": {"x": {"datum": 0.27, "axis": null}, "x2": {"datum": 29.6}, "y": {"datum": -45.86, "axis": null}}},
          {"data": {"values": [{}]}, "mark": {"type": "point", "shape": "square", "filled": true, "fill": "#b0b0b0", "stroke": "black", "strokeWidth": 1, "size": 200, "opacity": 1},
           "encoding": {"x": {"datum": 0.1, "axis": null}, "y": {"datum": -45.75, "axis": null}}},
          {"data": {"values": [{}]}, "mark": {"type": "point", "shape": "circle", "filled": false, "stroke": "#ff0000", "strokeWidth": 1.5, "size": 400, "opacity": 1},
           "encoding": {"x": {"datum": 0.1, "axis": null}, "y": {"datum": -45.75, "axis": null}}},
          {"data": {"values": [{}]}, "mark": {"type": "rule", "color": "black", "strokeWidth": 1},
           "encoding": {"x": {"datum": 30.26, "axis": null}, "y": {"datum": -28.5, "axis": null}, "y2": {"datum": -45.3}}},
          {"data": {"values": [{}]}, "mark": {"type": "point", "shape": "triangle-down", "filled": true, "color": "black", "size": 45, "opacity": 1},
           "encoding": {"x": {"datum": 30.26, "axis": null}, "y": {"datum": -45.5, "axis": null}}},
          {"data": {"values": [{}]}, "mark": {"type": "text", "fontWeight": "bold", "fontSize": 23},
           "encoding": {"x": {"datum": -0.19, "axis": null}, "y": {"datum": -22.3, "axis": null}, "text": {"value": "Hétérostructure AlN/ZnO/Si"}}},
          {"data": {"values": [{}]}, "mark": {"type": "text", "fontWeight": "bold", "fontSize": 23},
           "encoding": {"x": {"datum": -0.19, "axis": null}, "y": {"datum": -24.15, "axis": null}, "text": {"value": "kh"}}},
          {"data": {"values": [{}]}, "mark": {"type": "text", "fontWeight": "bold", "fontSize": 14},
           "encoding": {"x": {"datum": 1.24, "axis": null}, "y": {"datum": -24.6, "axis": null}, "text": {"value": "ZnO"}}},
          {"data": {"values": [{}]}, "mark": {"type": "text", "fontWeight": "bold", "fontSize": 23},
           "encoding": {"x": {"datum": 2.9, "axis": null}, "y": {"datum": -24.15, "axis": null}, "text": {"value": "=1,25"}}},
          {"data": {"values": [{}]}, "mark": {"type": "text", "fontWeight": "bold", "fontSize": 23},
           "encoding": {"x": {"datum": -0.19, "axis": null}, "y": {"datum": -26.17, "axis": null}, "text": {"value": "Mode 1"}}},
          {"data": {"values": [{}]}, "mark": {"type": "text", "fontSize": 24},
           "encoding": {"x": {"datum": 22.58, "axis": null}, "y": {"datum": -37.73, "axis": null}, "text": {"value": "ΔIL=17dB"}}},
          {"data": {"values": [{}]}, "mark": {"type": "text", "fontSize": 24, "color": "#ff0000"},
           "encoding": {"x": {"datum": 0.4, "axis": null}, "y": {"datum": -44.9, "axis": null}, "text": {"value": "plasma éteint"}}}
        ]
      },
      {
        "layer": [
          {"data": {"values": [{}]}, "mark": {"type": "text", "font": "DejaVu Serif", "fontWeight": "bold", "fontSize": 26},
           "encoding": {
             "x": {"datum": -8.947, "type": "quantitative", "axis": {"orient": "top", "labels": false, "ticks": false, "title": null, "domain": true}},
             "y": {"datum": -21.97, "type": "quantitative", "axis": {"orient": "right", "labels": false, "ticks": false, "title": null, "domain": true}},
             "text": {"value": "(b)"}}}
        ]
      },
      {
        "layer": [
          {"data": {"values": [{}]}, "mark": {"type": "text"},
           "encoding": {
             "x": {"datum": 10, "type": "quantitative", "axis": null},
             "y": {"datum": -30, "type": "quantitative", "axis": {"orient": "left", "offset": -40.3, "labels": false, "title": null, "domain": false, "values": [-47.5,-42.5,-37.5,-32.5,-27.5,-22.5]}},
             "text": {"value": ""}}}
        ]
      }
    ],
    "resolve": {"axis": {"x": "independent", "y": "independent"}}
  },
  {
    "width": 642.3, "height": 465,
    "view": {"stroke": null},
    "layer": [
      {
        "layer": [
          {"data": {"name": "cr"}, "mark": {"type": "line", "color": "#ff0000", "strokeWidth": 1.2, "interpolate": "monotone", "clip": true},
           "encoding": {
             "x": {"field": "f", "type": "quantitative", "title": "Fréquence (MHz)", "scale": {"domain": [300, 700], "range": [11.3, 642.3], "nice": false, "zero": false}, "axis": {"values": [300,350,400,450,500,550,600,650,700], "labelExpr": "datum.value % 100 === 0 ? datum.label : ''", "labelOverlap": false, "labelPadding": 4.5, "titlePadding": 17.7, "domain": true}},
             "y": {"field": "s", "type": "quantitative", "title": "S₂₁ (dB)", "scale": {"domain": [-90, -30], "nice": false, "zero": false}, "axis": {"values": [-90,-85,-80,-75,-70,-65,-60,-55,-50,-45,-40,-35,-30], "labelExpr": "datum.value % 10 === 0 ? replace(datum.label, '\u2212', '-') : ''", "labelOverlap": false, "labelPadding": 9, "titlePadding": 17, "titleY": 214.7, "offset": -11.3, "domain": true}}
           }},
          {"data": {"name": "cu"}, "mark": {"type": "line", "color": "#0000ff", "strokeWidth": 2.3, "interpolate": "monotone", "clip": true},
           "encoding": {"x": {"field": "f", "type": "quantitative", "title": "Fréquence (MHz)"}, "y": {"field": "s", "type": "quantitative", "title": "S₂₁ (dB)"}}},
          {"data": {"name": "cb"}, "mark": {"type": "line", "color": "black", "strokeWidth": 2.5, "interpolate": "monotone", "clip": true},
           "encoding": {"x": {"field": "f", "type": "quantitative", "title": "Fréquence (MHz)"}, "y": {"field": "s", "type": "quantitative", "title": "S₂₁ (dB)"}}}
        ]
      },
      {
        "layer": [
          {"data": {"values": [{}]}, "mark": {"type": "rule", "color": "black", "strokeWidth": 1},
           "encoding": {"x": {"datum": 402, "axis": null}, "y": {"datum": -35.9, "axis": null}, "y2": {"datum": -55.3}}},
          {"data": {"values": [{}]}, "mark": {"type": "point", "shape": "triangle-down", "filled": true, "color": "black", "size": 45, "opacity": 1},
           "encoding": {"x": {"datum": 402, "axis": null}, "y": {"datum": -55.6, "axis": null}}},
          {"data": {"values": [{}]}, "mark": {"type": "text"}, "encoding": {"x": {"datum": 319.2, "axis": null}, "y": {"datum": -46.4, "axis": null}, "text": {"value": "Mode 0"}}},
          {"data": {"values": [{}]}, "mark": {"type": "text", "align": "center"}, "encoding": {"x": {"datum": 404.6, "axis": null}, "y": {"datum": -34.26, "axis": null}, "text": {"value": "Rélexion"}}},
          {"data": {"values": [{}]}, "mark": {"type": "text", "align": "center"}, "encoding": {"x": {"datum": 514.8, "axis": null}, "y": {"datum": -33.4, "axis": null}, "text": {"value": "Mode 1"}}},
          {"data": {"values": [{}]}, "mark": {"type": "text", "align": "center"}, "encoding": {"x": {"datum": 581.2, "axis": null}, "y": {"datum": -37.1, "axis": null}, "text": {"value": "Mode 2"}}},
          {"data": {"values": [{}]}, "mark": {"type": "rule", "color": "black", "strokeWidth": 2.5}, "encoding": {"x": {"datum": 303.3, "axis": null}, "x2": {"datum": 338.0}, "y": {"datum": -26.0, "axis": null}}},
          {"data": {"values": [{}]}, "mark": {"type": "rule", "color": "#ff0000", "strokeWidth": 1.2}, "encoding": {"x": {"datum": 430.5, "axis": null}, "x2": {"datum": 464.8}, "y": {"datum": -26.0, "axis": null}}},
          {"data": {"values": [{}]}, "mark": {"type": "rule", "color": "#0000ff", "strokeWidth": 2.3}, "encoding": {"x": {"datum": 574.6, "axis": null}, "x2": {"datum": 609.3}, "y": {"datum": -26.0, "axis": null}}},
          {"data": {"values": [{}]}, "mark": {"type": "text"}, "encoding": {"x": {"datum": 343.6, "axis": null}, "y": {"datum": -27.1, "axis": null}, "text": {"value": "h"}}},
          {"data": {"values": [{}]}, "mark": {"type": "text", "fontSize": 14}, "encoding": {"x": {"datum": 351.8, "axis": null}, "y": {"datum": -28.4, "axis": null}, "text": {"value": "AlN"}}},
          {"data": {"values": [{}]}, "mark": {"type": "text"}, "encoding": {"x": {"datum": 370.8, "axis": null}, "y": {"datum": -27.1, "axis": null}, "text": {"value": "= 0 µm"}}},
          {"data": {"values": [{}]}, "mark": {"type": "text"}, "encoding": {"x": {"datum": 469.8, "axis": null}, "y": {"datum": -27.1, "axis": null}, "text": {"value": "h"}}},
          {"data": {"values": [{}]}, "mark": {"type": "text", "fontSize": 14}, "encoding": {"x": {"datum": 478.6, "axis": null}, "y": {"datum": -28.4, "axis": null}, "text": {"value": "AlN"}}},
          {"data": {"values": [{}]}, "mark": {"type": "text"}, "encoding": {"x": {"datum": 497.6, "axis": null}, "y": {"datum": -27.1, "axis": null}, "text": {"value": "= 1,4 µm"}}},
          {"data": {"values": [{}]}, "mark": {"type": "text"}, "encoding": {"x": {"datum": 613.9, "axis": null}, "y": {"datum": -27.1, "axis": null}, "text": {"value": "h"}}},
          {"data": {"values": [{}]}, "mark": {"type": "text", "fontSize": 14}, "encoding": {"x": {"datum": 623.2, "axis": null}, "y": {"datum": -28.4, "axis": null}, "text": {"value": "AlN"}}},
          {"data": {"values": [{}]}, "mark": {"type": "text"}, "encoding": {"x": {"datum": 641.7, "axis": null}, "y": {"datum": -27.1, "axis": null}, "text": {"value": "= 12 µm"}}}
        ]
      },
      {
        "layer": [
          {"data": {"values": [{}]}, "mark": {"type": "text", "font": "DejaVu Serif", "fontWeight": "bold", "fontSize": 26},
           "encoding": {
             "x": {"datum": 220.7, "type": "quantitative", "axis": {"orient": "top", "labels": false, "title": null, "tickSize": 5, "values": [350,400,450,500,550,600,650], "domain": true}},
             "y": {"datum": -34.35, "type": "quantitative", "axis": {"orient": "right", "labels": false, "ticks": false, "title": null, "domain": true}},
             "text": {"value": "(c)"}}}
        ]
      }
    ],
    "resolve": {"axis": {"x": "independent", "y": "independent"}}
  }
  ]
}
]
}
